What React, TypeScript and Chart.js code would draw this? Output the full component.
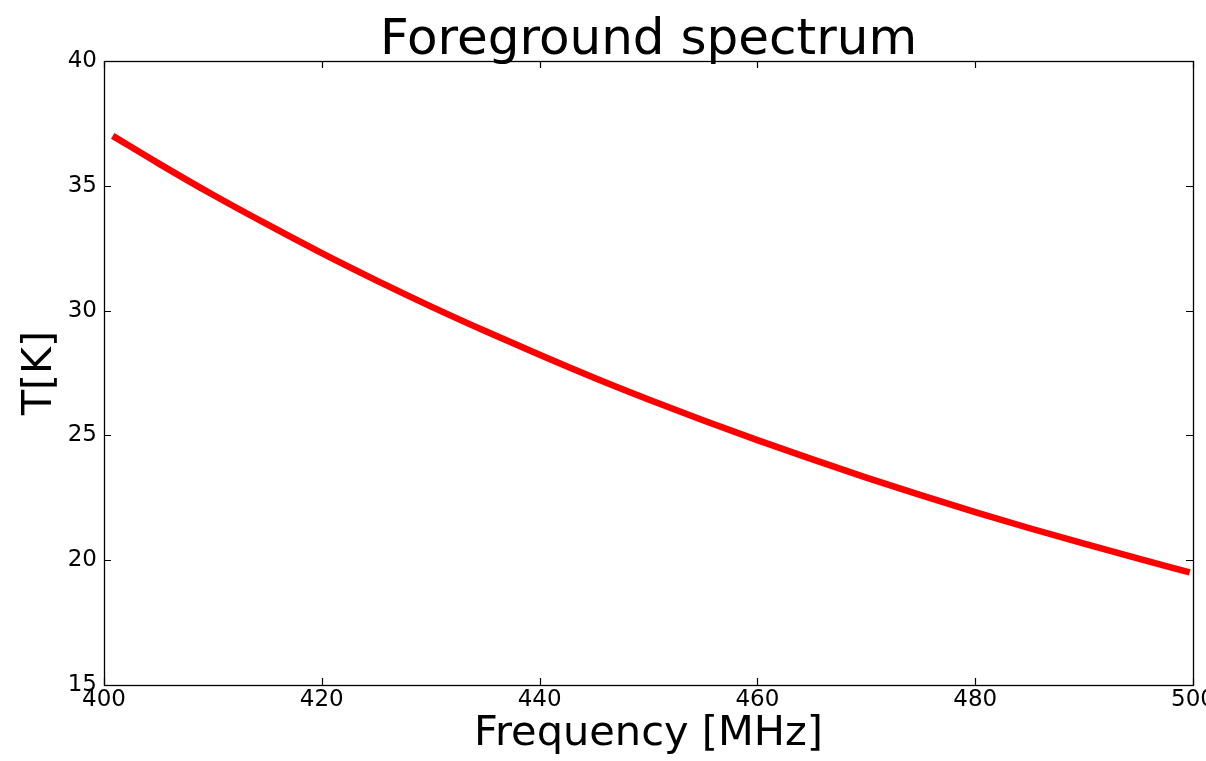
import React, { useEffect, useRef } from "react";
import { Chart, registerables } from "chart.js";

Chart.register(...registerables);

const chartTitle = "Foreground spectrum";
const xTitle = "Frequency [MHz]";
const yTitle = "T[K]";

const frequencies = [400.8, 405, 410, 415, 420, 425, 430, 435, 440, 445, 450, 455, 460, 465, 470, 475, 480, 485, 490, 495, 499.7];
const temperatures = [37.0, 35.9, 34.64, 33.45, 32.3, 31.21, 30.17, 29.18, 28.23, 27.31, 26.44, 25.61, 24.81, 24.05, 23.31, 22.61, 21.93, 21.28, 20.66, 20.06, 19.51];

const xMin = 400;
const xMax = 500;
const xStep = 20;
const yMin = 15;
const yMax = 40;
const yStep = 5;

const FONT = "'DejaVu Sans', sans-serif";

const framePlugin = {
  id: "frameTicks",
  afterDatasetsDraw(chart: any) {
    const { ctx, chartArea, scales } = chart;
    const { left, right, top, bottom } = chartArea;
    const tl = 7;
    ctx.save();
    ctx.strokeStyle = "#000";
    ctx.lineWidth = 1.2;
    ctx.beginPath();
    scales.x.ticks.forEach((t: any) => {
      const px = Math.round(scales.x.getPixelForValue(t.value)) + 0.5;
      ctx.moveTo(px, bottom);
      ctx.lineTo(px, bottom - tl);
      ctx.moveTo(px, top);
      ctx.lineTo(px, top + tl);
    });
    scales.y.ticks.forEach((t: any) => {
      const py = Math.round(scales.y.getPixelForValue(t.value)) + 0.5;
      ctx.moveTo(left, py);
      ctx.lineTo(left + tl, py);
      ctx.moveTo(right, py);
      ctx.lineTo(right - tl, py);
    });
    ctx.stroke();
    ctx.lineWidth = 1.3;
    ctx.strokeRect(Math.round(left) + 0.5, Math.round(top) + 0.5, Math.round(right - left), Math.round(bottom - top));
    ctx.restore();
  },
};

export default function App() {
  const ref = useRef<HTMLCanvasElement | null>(null);

  useEffect(() => {
    document.body.style.margin = "0";
    const canvas = ref.current;
    if (!canvas) return;
    const chart = new Chart(canvas, {
      type: "line",
      data: {
        datasets: [
          {
            label: "Foreground",
            data: frequencies.map((f, i) => ({ x: f, y: temperatures[i] })),
            borderColor: "#ff0000",
            backgroundColor: "#ff0000",
            borderWidth: 6.5,
            pointRadius: 0,
            cubicInterpolationMode: "monotone",
            borderCapStyle: "butt",
            fill: false,
          },
        ],
      },
      options: {
        responsive: false,
        animation: false,
        devicePixelRatio: 1,
        layout: { padding: { top: 0, right: 13, bottom: 0, left: 0 } },
        plugins: {
          legend: { display: false },
          tooltip: { enabled: false },
          title: {
            display: true,
            fullSize: false,
            text: chartTitle,
            color: "#000",
            font: { family: FONT, size: 50, weight: "normal", lineHeight: 1 },
            padding: { top: 16, bottom: -5 },
          },
        },
        scales: {
          x: {
            type: "linear",
            min: xMin,
            max: xMax,
            ticks: {
              stepSize: xStep,
              color: "#000",
              padding: 1,
              maxRotation: 0,
              font: { family: FONT, size: 23 },
            },
            grid: { display: false, drawTicks: false },
            border: { display: false },
            title: {
              display: true,
              text: xTitle,
              color: "#000",
              font: { family: FONT, size: 41.5, lineHeight: 1.2 },
              padding: { top: 0, bottom: 2 },
            },
            afterFit(scale: any) {
              scale.height = 76;
              scale.paddingLeft = 0;
              scale.paddingRight = 0;
            },
          },
          y: {
            type: "linear",
            min: yMin,
            max: yMax,
            ticks: {
              stepSize: yStep,
              color: "#000",
              padding: 7,
              font: { family: FONT, size: 23 },
            },
            grid: { display: false, drawTicks: false },
            border: { display: false },
            title: {
              display: true,
              text: yTitle,
              color: "#000",
              font: { family: FONT, size: 41, lineHeight: 1.2 },
              padding: { top: 16, bottom: 0 },
            },
            afterFit(scale: any) {
              scale.width = 104;
              scale.paddingTop = 0;
              scale.paddingBottom = 0;
            },
          },
        },
      },
      plugins: [framePlugin],
    });
    return () => chart.destroy();
  }, []);

  return (
    <div style={{ width: 1206, height: 761 }}>
      <canvas ref={ref} width={1206} height={761} style={{ display: "block" }} />
    </div>
  );
}
